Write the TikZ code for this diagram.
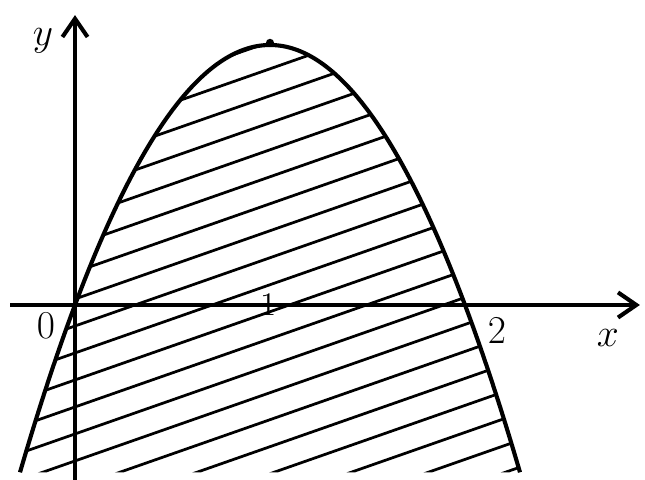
\documentclass[tikz,border=0pt]{standalone}
\usepackage{tikz}
\usetikzlibrary{arrows.meta}

\begin{document}
\begin{tikzpicture}[
  x=3cm, y=4cm,
  axis/.style={line width=1.8pt,-{Straight Barb[length=8pt,width=11pt,line width=1.8pt]}},
  curve/.style={line width=1.8pt},
  hatch/.style={line width=1.2pt},
  lab/.style={font=\fontsize{18}{20}\selectfont,inner sep=0pt},
  small lab/.style={font=\fontsize{15}{17}\selectfont,inner sep=0pt}
]
\useasboundingbox (-0.3846,-0.673) rectangle (2.923,1.173);

% Rayado dentro de la parabola
\begin{scope}
  \clip plot[domain=-0.282:2.282,samples=80] (\x,{\x*(2-\x)}) -- cycle;
  \foreach \k in {-12,...,8}
    \draw[hatch] (-0.5,{-0.5*0.2625+0.023+0.1038*\k}) -- (2.5,{2.5*0.2625+0.023+0.1038*\k});
\end{scope}

% Ejes
\coordinate (O) at (0,0);
\coordinate (xs) at (-0.333,0);
\coordinate (xe) at (2.897,0);
\coordinate (ys) at (0,-0.673);
\coordinate (ye) at (0,1.115);
\draw[axis] (xs) -- (xe);
\draw[axis] (ys) -- (ye);

% Parabola y = x(2-x)
\draw[curve] plot[domain=-0.282:2.282,samples=80,smooth] (\x,{\x*(2-\x)});
\coordinate (V) at (1,1);
\fill (V) ++(0,0.008) circle (1.8pt);

% Etiquetas
\node[lab] (ylab) at (-0.164,1.015) {$y$};
\node[lab] (olab) at (-0.149,-0.08) {$0$};
\node[small lab] (onelab) at (0.99,0) {$1$};
\node[lab] (twolab) at (2.164,-0.1) {$2$};
\node[lab] (xlab) at (2.733,-0.127) {$x$};
\end{tikzpicture}
\end{document}
